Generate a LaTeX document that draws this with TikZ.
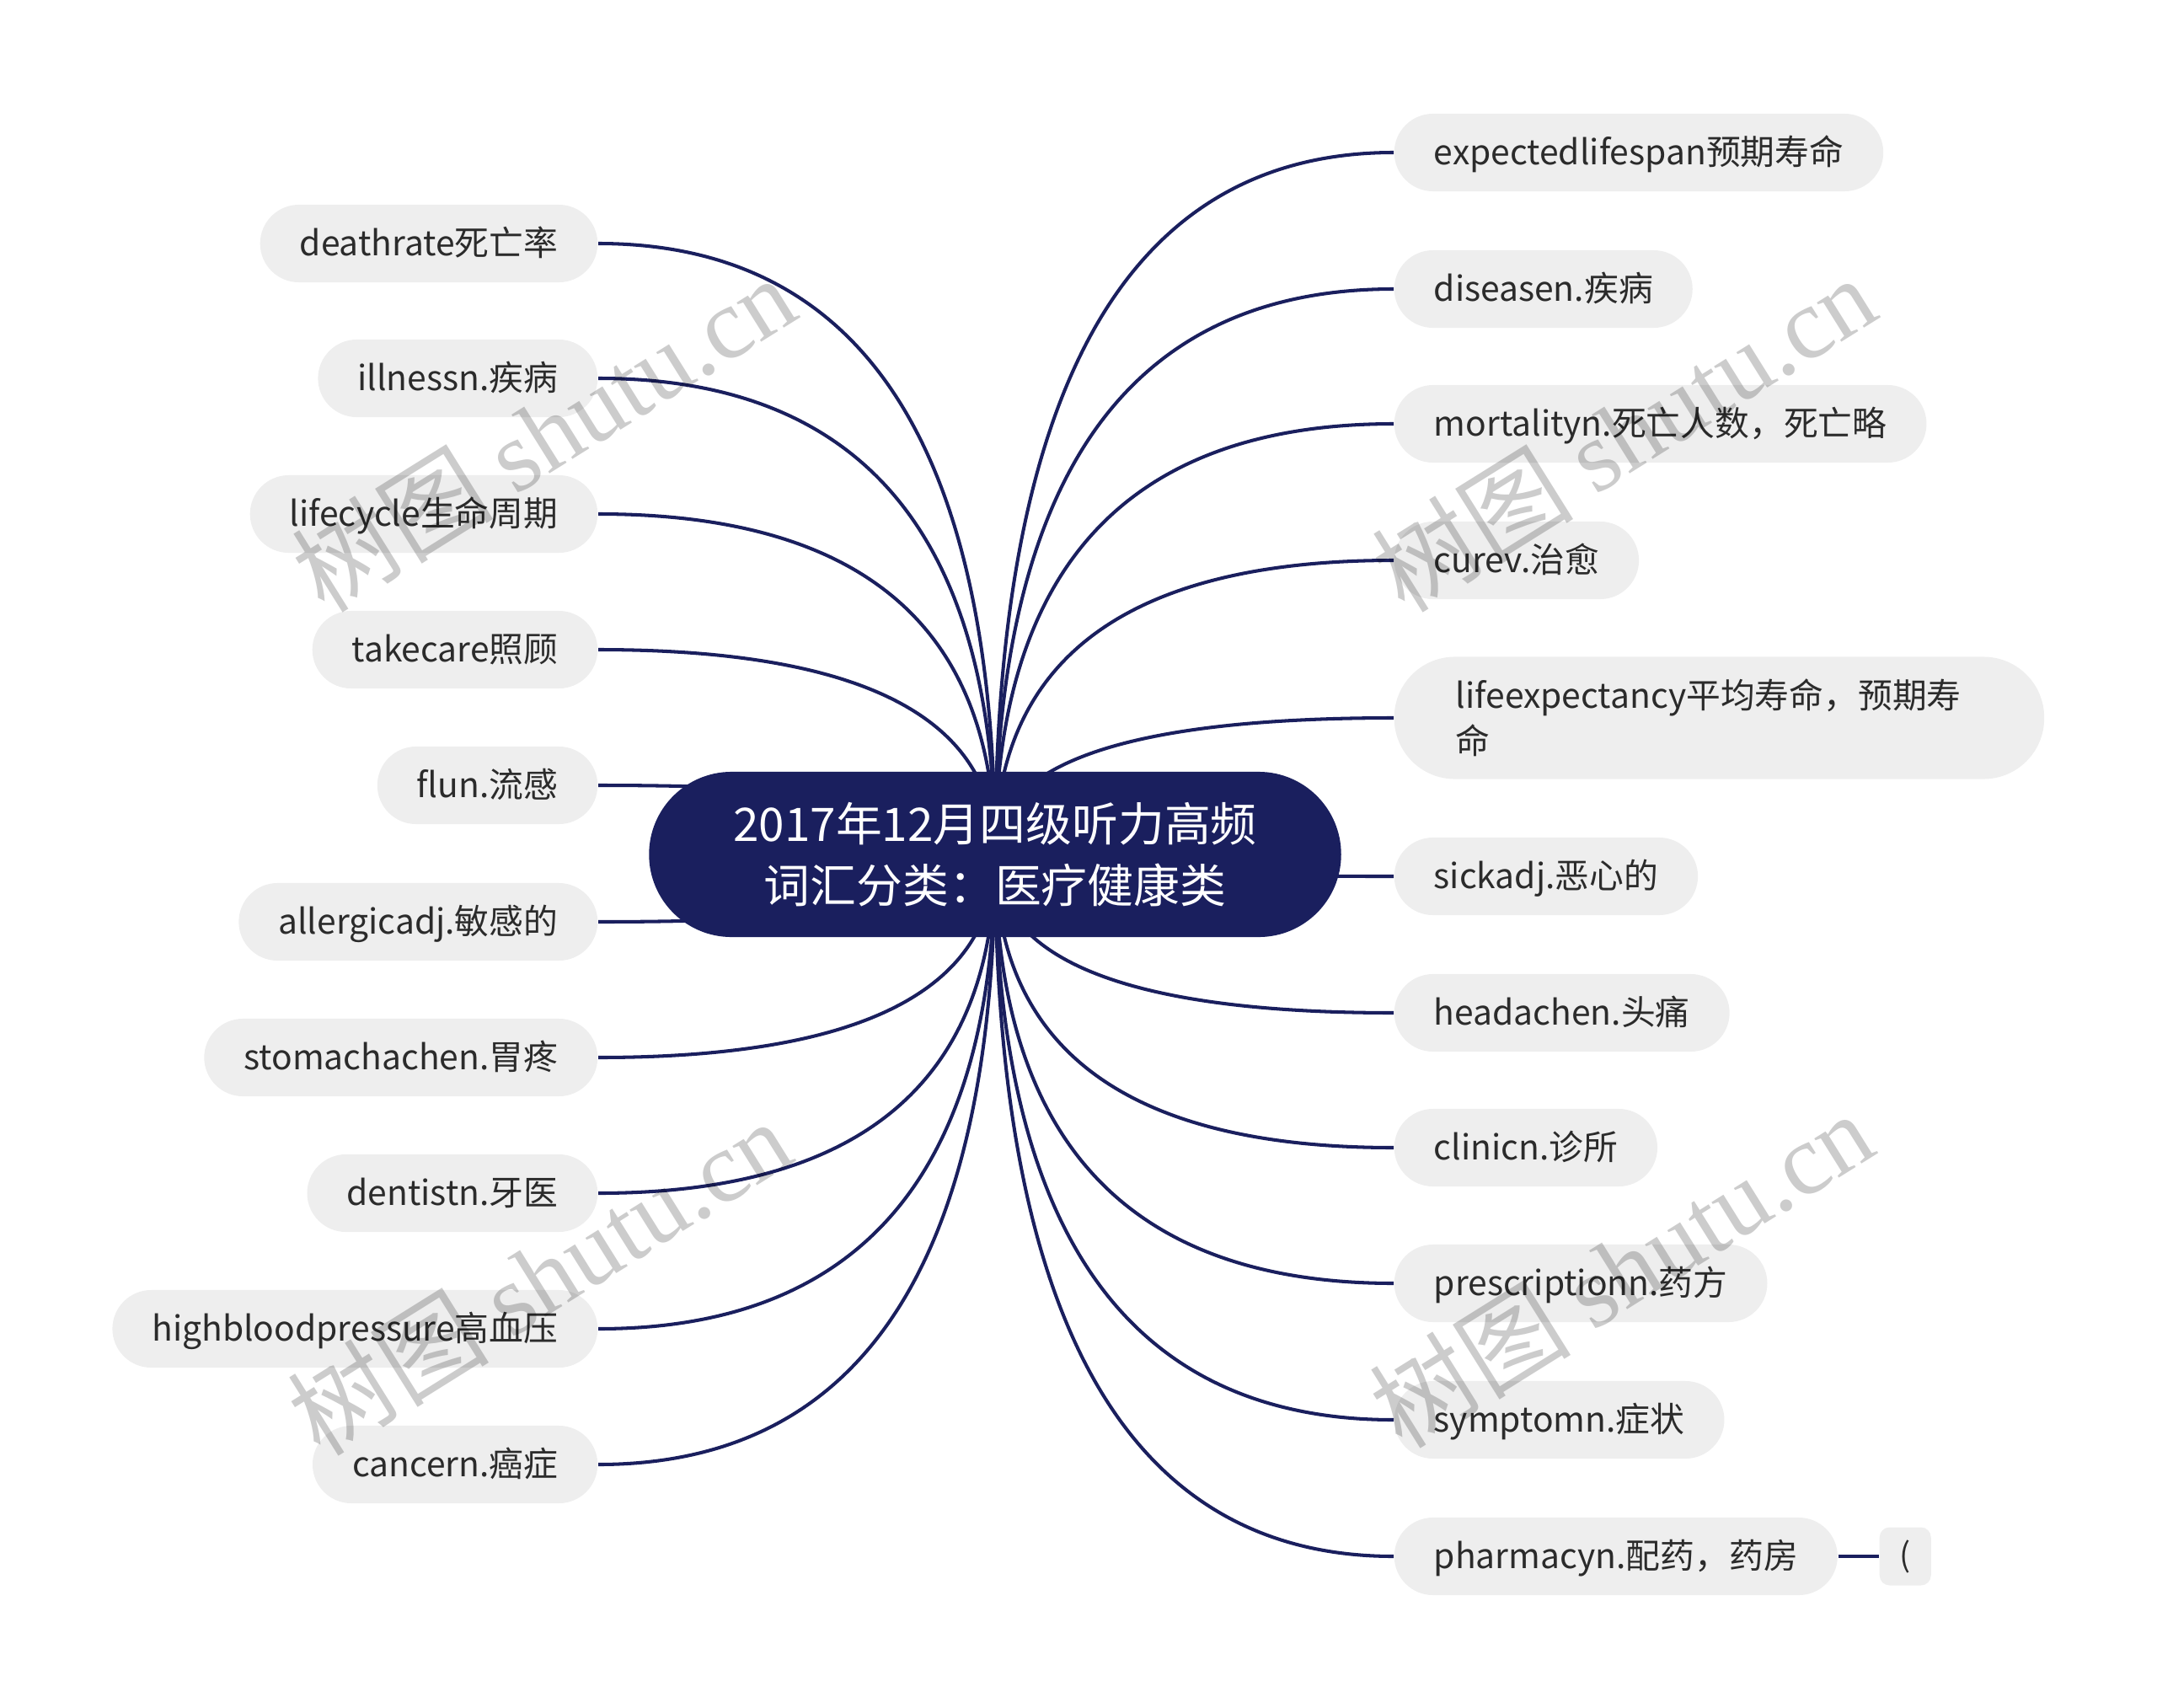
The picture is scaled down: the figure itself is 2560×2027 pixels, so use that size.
\documentclass[tikz,border=0pt]{standalone}
\usepackage{fontspec}
\setmainfont{Noto Sans CJK SC}
\newfontfamily\wmfont{Liberation Serif}
\usepackage{tikz}
\usetikzlibrary{calc}
\definecolor{rootblue}{HTML}{1A1F5E}
\definecolor{leafgray}{HTML}{EEEEEE}
\definecolor{leaftext}{HTML}{2B2B2B}
\pgfdeclarelayer{background}
\pgfsetlayers{background,main}
\tikzset{
  topic/.style={fill=rootblue, text=white, rounded corners=0.98cm,
    minimum width=8.21cm, minimum height=1.96cm, align=center,
    font=\fontsize{15.6}{20.8}\selectfont},
  leafbase/.style={fill=leafgray, text=leaftext, inner ysep=0pt,
    font=\fontsize{11.6}{15.4}\selectfont},
  leaf/.style={leafbase, rounded corners=0.46cm, minimum height=0.92cm,
    inner xsep=0.47cm, text height=0.3cm, text depth=0.02cm},
  leafwide/.style={leafbase, rounded corners=0.72cm, minimum height=1.45cm,
    inner xsep=0.73cm, text width=6.25cm, align=left},
  chip/.style={fill=leafgray, text=leaftext, rounded corners=0.12cm,
    minimum width=0.61cm, minimum height=0.69cm, inner sep=0pt,
    font=\fontsize{11}{13}\selectfont},
  branch/.style={draw=rootblue, line width=1.15pt,
    to path={.. controls ($(\tikztostart)!0.6667!(\tikztostart |- \tikztotarget)$)
      and ($(\tikztotarget)!0.6667!(\tikztostart |- \tikztotarget)$) .. (\tikztotarget)}},
  watermark/.style={text=black, text opacity=0.2, rotate=32,
    font=\fontsize{34}{38}\selectfont},
}

\begin{document}
\begin{tikzpicture}[x=0.01cm, y=-0.01cm]
    \useasboundingbox (0,0) rectangle (2560,2027);

    \node[topic] (ROOT) at (1181,1014) {2017年12月四级听力高频\\词汇分类：医疗健康类};

    \node[leaf, anchor=west] (R1) at (1654,181) {expectedlifespan预期寿命};
    \node[leaf, anchor=west] (R2) at (1654,343) {diseasen.疾病};
    \node[leaf, anchor=west] (R3) at (1654,503) {mortalityn.死亡人数，死亡略};
    \node[leaf, anchor=west] (R4) at (1654,665) {curev.治愈};
    \node[leafwide, anchor=west] (R5) at (1654,852) {lifeexpectancy平均寿命，预期寿\\命};
    \node[leaf, anchor=west] (R6) at (1654,1040) {sickadj.恶心的};
    \node[leaf, anchor=west] (R7) at (1654,1202) {headachen.头痛};
    \node[leaf, anchor=west] (R8) at (1654,1362) {clinicn.诊所};
    \node[leaf, anchor=west] (R9) at (1654,1523) {prescriptionn.药方};
    \node[leaf, anchor=west] (R10) at (1654,1685) {symptomn.症状};
    \node[leaf, anchor=west] (R11) at (1654,1847) {pharmacyn.配药，药房};
    \node[chip, anchor=west] (R11-a) at (2230,1847) {(};

    \node[leaf, anchor=east] (L1) at (710,289) {deathrate死亡率};
    \node[leaf, anchor=east] (L2) at (710,449) {illnessn.疾病};
    \node[leaf, anchor=east] (L3) at (710,610) {lifecycle生命周期};
    \node[leaf, anchor=east] (L4) at (710,771) {takecare照顾};
    \node[leaf, anchor=east] (L5) at (710,932) {flun.流感};
    \node[leaf, anchor=east] (L6) at (710,1094) {allergicadj.敏感的};
    \node[leaf, anchor=east] (L7) at (710,1255) {stomachachen.胃疼};
    \node[leaf, anchor=east] (L8) at (710,1416) {dentistn.牙医};
    \node[leaf, anchor=east] (L9) at (710,1577) {highbloodpressure高血压};
    \node[leaf, anchor=east] (L10) at (710,1738) {cancern.癌症};

    \begin{pgfonlayer}{background}
    \draw[branch] (ROOT.center) to (R1.west);
    \draw[branch] (ROOT.center) to (R2.west);
    \draw[branch] (ROOT.center) to (R3.west);
    \draw[branch] (ROOT.center) to (R4.west);
    \draw[branch] (ROOT.center) to (R5.west);
    \draw[branch] (ROOT.center) to (R6.west);
    \draw[branch] (ROOT.center) to (R7.west);
    \draw[branch] (ROOT.center) to (R8.west);
    \draw[branch] (ROOT.center) to (R9.west);
    \draw[branch] (ROOT.center) to (R10.west);
    \draw[branch] (ROOT.center) to (R11.west);
    \draw[branch] (R11.east) -- (R11-a.west);

    \draw[branch] (ROOT.center) to (L1.east);
    \draw[branch] (ROOT.center) to (L2.east);
    \draw[branch] (ROOT.center) to (L3.east);
    \draw[branch] (ROOT.center) to (L4.east);
    \draw[branch] (ROOT.center) to (L5.east);
    \draw[branch] (ROOT.center) to (L6.east);
    \draw[branch] (ROOT.center) to (L7.east);
    \draw[branch] (ROOT.center) to (L8.east);
    \draw[branch] (ROOT.center) to (L9.east);
    \draw[branch] (ROOT.center) to (L10.east);
    \end{pgfonlayer}

    \node[watermark] (WM1) at (645,514) {树图 {\wmfont shutu.cn}};
    \node[watermark] (WM2) at (1927,514) {树图 {\wmfont shutu.cn}};
    \node[watermark] (WM3) at (640,1515) {树图 {\wmfont shutu.cn}};
    \node[watermark] (WM4) at (1924,1506) {树图 {\wmfont shutu.cn}};

  \end{tikzpicture}
\end{document}
